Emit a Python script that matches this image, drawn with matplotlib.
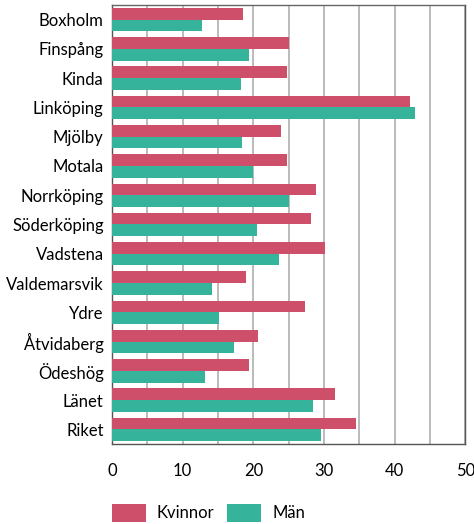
import numpy as np
import matplotlib

matplotlib.use("Agg")
import matplotlib.pyplot as plt
from matplotlib.patches import Patch

plt.rcParams["font.family"] = ["Lato", "DejaVu Sans"]

kommuner = [
    "Boxholm", "Finspång", "Kinda", "Linköping", "Mjölby", "Motala",
    "Norrköping", "Söderköping", "Vadstena", "Valdemarsvik", "Ydre",
    "Åtvidaberg", "Ödeshög", "Länet", "Riket",
]
kvinnor = [18.5, 25.1, 24.8, 42.1, 23.9, 24.7, 28.9, 28.1, 30.2, 19.0, 27.3, 20.7, 19.4, 31.5, 34.5]
man = [12.8, 19.4, 18.2, 42.8, 18.4, 20.0, 25.0, 20.5, 23.6, 14.1, 15.2, 17.3, 13.2, 28.5, 29.5]

pink = "#cd4f69"
teal = "#35b49b"

fig = plt.figure(figsize=(4.74, 5.24), dpi=100)
ax = fig.add_axes([0.2363, 0.1527, 0.7457, 0.8378])

y = np.arange(len(kommuner))
h = 0.4
ax.barh(y - h / 2, kvinnor, height=h, color=pink, zorder=3)
ax.barh(y + h / 2, man, height=h, color=teal, zorder=3)

ax.set_xlim(0, 50)
ax.set_ylim(len(kommuner) - 0.5, -0.5)
ax.set_yticks(y)
ax.set_yticklabels(kommuner, fontsize=12)
ax.set_xticks(np.arange(0, 51, 10))
ax.set_xticks(np.arange(0, 51, 5), minor=True)
ax.tick_params(axis="x", labelsize=12, pad=14, length=0, which="both")
ax.tick_params(axis="y", length=0, pad=6)
ax.grid(axis="x", which="both", color="#b5b5b5", linewidth=1.3, zorder=0)

for s in ax.spines.values():
    s.set_color("#555555")
    s.set_linewidth(1.0)
ax.spines["top"].set_color("#666666")

handles = [Patch(facecolor=pink, label="Kvinnor"), Patch(facecolor=teal, label="Män")]
fig.legend(
    handles=handles,
    loc="lower left",
    bbox_to_anchor=(112 / 474, 0.004),
    ncol=2,
    frameon=False,
    fontsize=12,
    borderpad=0,
    borderaxespad=0,
    handlelength=2.05,
    handleheight=1.3,
    columnspacing=0.75,
    handletextpad=0.65,
)

fig.savefig("out.png", dpi=100)
